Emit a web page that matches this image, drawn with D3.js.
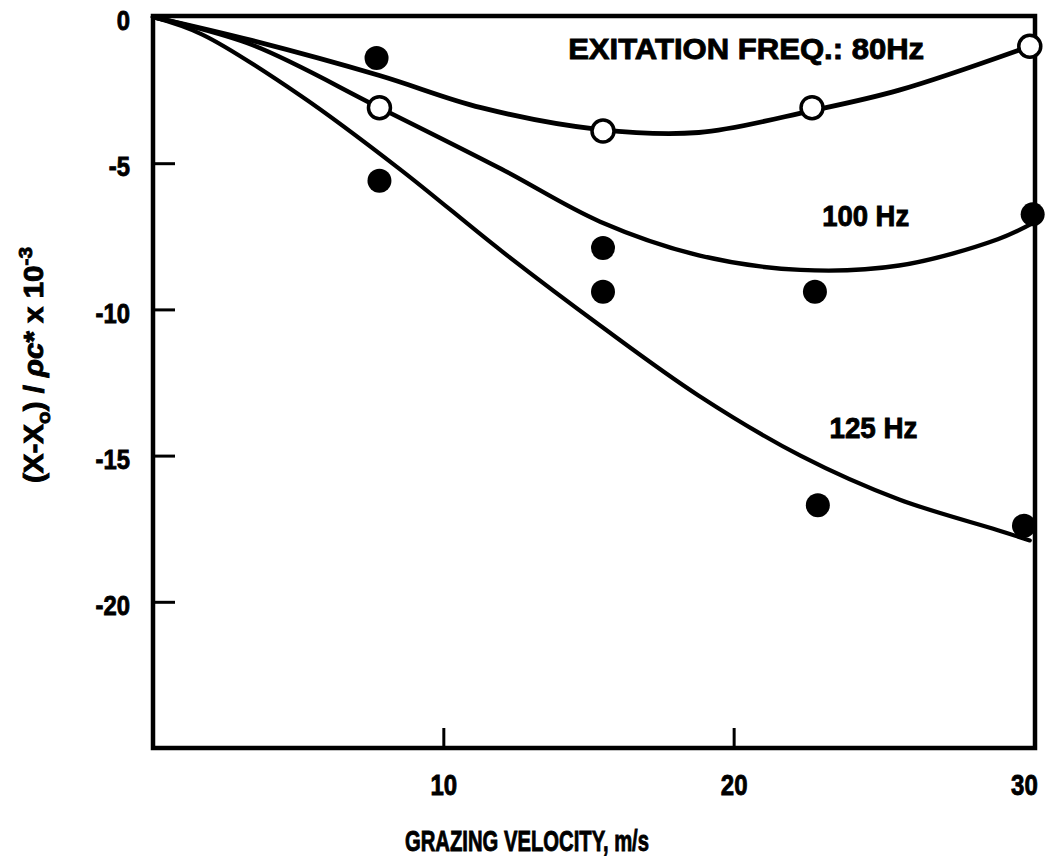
<!DOCTYPE html>
<html><head><meta charset="utf-8">
<script src="https://cdn.jsdelivr.net/npm/d3@7"></script>
<style>
html,body{margin:0;padding:0;background:#fff;}
text{font-family:"Liberation Sans",Arial,sans-serif;font-weight:bold;fill:#000;stroke:#000;stroke-width:0.9px;}
</style></head>
<body><svg id="chart" width="1046" height="860"></svg>
<script>
// ---- data ----
const xTicks = [10, 20, 30];
const yTicks = [0, -5, -10, -15, -20];
// fitted curves (x: grazing velocity m/s, y: (X-Xo)/rho c * 1e-3)
const curve80  = [[0,0],[3.4,-0.8],[7.8,-2.0],[11.3,-3.1],[15.4,-3.85],[18.8,-3.95],[22.7,-3.2],[25.7,-2.5],[30.2,-1.0]];
const curve100 = [[0,0],[3.4,-0.95],[7.8,-3.1],[12.0,-5.2],[15.4,-7.0],[18.8,-8.15],[22.3,-8.65],[25.7,-8.5],[29.1,-7.6],[30.4,-7.0]];
const curve125 = [[0,0],[1.7,-0.6],[5.1,-2.7],[8.5,-5.2],[12.0,-8.0],[15.4,-10.55],[18.8,-12.95],[22.3,-15.0],[25.7,-16.5],[29.1,-17.55],[30.2,-17.9]];
// measured points
const open80   = [[7.8,-3.1],[15.5,-3.9],[22.7,-3.1],[30.2,-1.0]];
const filled100 = [[7.7,-1.4],[15.5,-7.9],[22.8,-9.4],[30.3,-6.75]];
const filled125 = [[7.8,-5.6],[15.5,-9.4],[22.9,-16.7],[30.0,-17.4]];
const curveLabels = [
  {text:"EXITATION FREQ.: 80Hz", x:14.3, y:-1.45, w:356},
  {text:"100 Hz", x:23.05, y:-7.15, w:87},
  {text:"125 Hz", x:23.3, y:-14.4, w:88}
];

// ---- layout ----
const svg = d3.select("#chart");
const L = 153, R = 1035, T = 16, B = 748;
const x = d3.scaleLinear().domain([0, 30.38]).range([L, R]);
const y = d3.scaleLinear().domain([-25, 0]).range([B, T + 1]);

function condense(sel, f) {
  sel.each(function() {
    const n = this.getComputedTextLength();
    d3.select(this).attr("textLength", n * f).attr("lengthAdjust", "spacingAndGlyphs");
  });
}

// frame
svg.append("rect").attr("x", L).attr("y", T).attr("width", R - L).attr("height", B - T)
  .attr("fill", "none").attr("stroke", "#000").attr("stroke-width", 4.5);

// x axis ticks (inward)
const xAxis = d3.axisBottom(x).tickValues(xTicks).tickSize(-20).tickPadding(22).tickFormat(d3.format("d"));
const gx = svg.append("g").attr("transform", `translate(0,${B})`).call(xAxis);
gx.select(".domain").remove();
gx.selectAll(".tick line").attr("stroke", "#000").attr("stroke-width", 3);
gx.selectAll(".tick").filter(d => d === 30).select("line").remove();
gx.selectAll(".tick text").attr("font-size", 30).attr("dy", null).attr("y", 47);
condense(gx.selectAll(".tick text"), 0.8);

// y axis ticks (inward)
const yAxis = d3.axisLeft(y).tickValues(yTicks).tickSize(-22).tickPadding(24).tickFormat(d => d === 0 ? "0" : "-" + Math.abs(d));
const gy = svg.append("g").attr("transform", `translate(${L},0)`).call(yAxis);
gy.select(".domain").remove();
gy.selectAll(".tick line").attr("stroke", "#000").attr("stroke-width", 3);
gy.selectAll(".tick").filter(d => d === 0).select("line").remove();
gy.selectAll(".tick text").attr("font-size", 28).attr("x", -23).attr("dy", "0.45em");
condense(gy.selectAll(".tick text"), 0.85);

// curves
const line = d3.line().x(d => x(d[0])).y(d => y(d[1])).curve(d3.curveCatmullRom.alpha(0.5));
[[curve80, 4.8], [curve100, 4.4], [curve125, 4.2]].forEach(([c, w]) => {
  svg.append("path").attr("d", line(c)).attr("fill", "none").attr("stroke", "#000")
    .attr("stroke-width", w).attr("stroke-linecap", "round");
});

// filled points
svg.append("g").selectAll("circle").data(filled100.concat(filled125)).join("circle")
  .attr("cx", d => x(d[0])).attr("cy", d => y(d[1])).attr("r", 12).attr("fill", "#000");
// open points
svg.append("g").selectAll("circle").data(open80).join("circle")
  .attr("cx", d => x(d[0])).attr("cy", d => y(d[1])).attr("r", 11)
  .attr("fill", "#fff").attr("stroke", "#000").attr("stroke-width", 3.5);

// labels
svg.append("g").selectAll("text").data(curveLabels).join("text")
  .attr("x", d => x(d.x)).attr("y", d => y(d.y)).attr("font-size", 30)
  .attr("textLength", d => d.w).attr("lengthAdjust", "spacingAndGlyphs")
  .text(d => d.text);

// axis titles
svg.append("text").attr("x", 405).attr("y", 851)
  .attr("font-size", 30).attr("textLength", 244).attr("lengthAdjust", "spacingAndGlyphs")
  .text("GRAZING VELOCITY, m/s");

const yl = svg.append("text").attr("transform", "translate(43,483) rotate(-90)")
  .attr("font-size", 27).attr("textLength", 236).attr("lengthAdjust", "spacingAndGlyphs");
yl.append("tspan").text("(X-X");
yl.append("tspan").attr("font-size", 19).attr("dy", 7).text("o");
yl.append("tspan").attr("dy", -7).text(") / ");
yl.append("tspan").attr("font-style", "italic").text("ρc");
yl.append("tspan").text("* x 10");
yl.append("tspan").attr("font-size", 19).attr("dy", -11).text("-3");
</script>
</body></html>
